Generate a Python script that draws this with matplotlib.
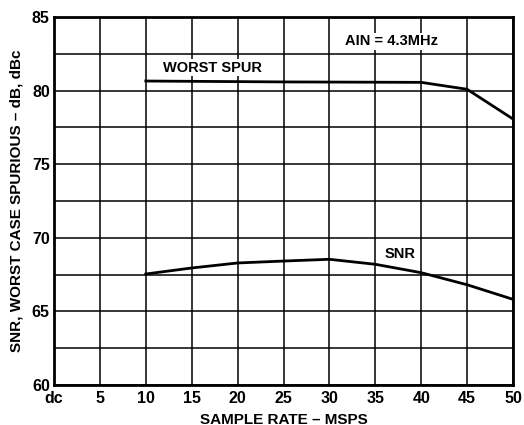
import matplotlib
matplotlib.use("Agg")
import matplotlib.pyplot as plt
import numpy as np

plt.rcParams['font.family'] = ['Liberation Sans', 'DejaVu Sans']
plt.rcParams['font.weight'] = 'bold'

sample_rate = [10, 15, 20, 25, 30, 35, 40, 45, 50]
worst_spur = [80.65, 80.63, 80.61, 80.59, 80.58, 80.57, 80.56, 80.09, 78.07]
snr = [67.54, 67.95, 68.29, 68.42, 68.54, 68.2, 67.63, 66.81, 65.82]
x_ticks = [0, 5, 10, 15, 20, 25, 30, 35, 40, 45, 50]
x_tick_labels = ['dc', '5', '10', '15', '20', '25', '30', '35', '40', '45', '50']
y_ticks = [60, 65, 70, 75, 80, 85]

fig = plt.figure(figsize=(5.24, 4.25), dpi=100)
ax = fig.add_axes([54/524, 1 - 385/425, (513-54)/524, (385-17)/425])

ax.plot(sample_rate, worst_spur, color='black', lw=2.0, solid_joinstyle='round', zorder=3)
ax.plot(sample_rate, snr, color='black', lw=2.0, solid_joinstyle='round', zorder=3)

ax.set_xlim(0, 50)
ax.set_ylim(60, 85)
ax.set_xticks(x_ticks)
ax.set_xticklabels(x_tick_labels)
ax.set_yticks(y_ticks)
ax.set_yticks(np.arange(60, 85.1, 2.5), minor=True)
ax.grid(True, which='both', color='black', lw=1.1)
ax.tick_params(which='both', length=0, labelsize=11.5)
ax.tick_params(axis='x', pad=4)
ax.tick_params(axis='y', pad=3)
for lbl in ax.get_xticklabels() + ax.get_yticklabels():
    lbl.set_fontweight('bold')
for s in ax.spines.values():
    s.set_linewidth(2.0)

ax.set_xlabel('SAMPLE RATE – MSPS', fontsize=11, fontweight='bold', labelpad=5)
ax.set_ylabel('SNR, WORST CASE SPURIOUS – dB, dBc', fontsize=11, fontweight='bold', labelpad=6)

ax.text(11.9, 81.55, 'WORST SPUR', fontsize=10.5, fontweight='bold', ha='left', va='center',
        bbox=dict(facecolor='white', edgecolor='none', pad=1))
ax.text(36.8, 83.35, 'AIN = 4.3MHz', fontsize=10.5, fontweight='bold', ha='center', va='center',
        bbox=dict(facecolor='white', edgecolor='none', pad=1))
ax.text(37.7, 68.9, 'SNR', fontsize=10.5, fontweight='bold', ha='center', va='center',
        bbox=dict(facecolor='white', edgecolor='none', pad=1))

fig.savefig('out.png', dpi=100)
